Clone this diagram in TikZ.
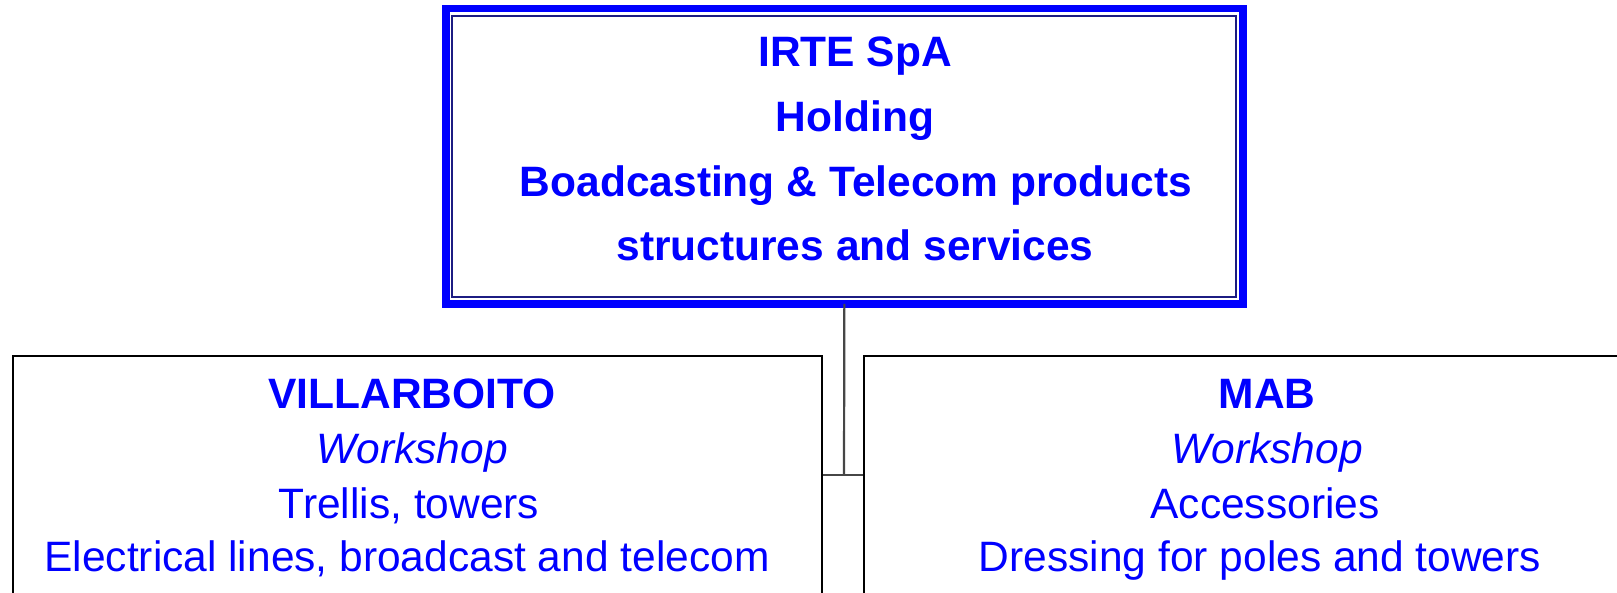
\documentclass[tikz,border=0pt]{standalone}
\usepackage{fontspec}
\setmainfont{Liberation Sans}
\definecolor{txtblue}{RGB}{0,0,255}
\definecolor{navyline}{RGB}{28,28,130}
\definecolor{conngray}{RGB}{70,70,70}
\begin{document}
\begin{tikzpicture}[x=1pt,y=-1pt,
  boxblack/.style={draw=black,line width=2.2pt,fill=white,rectangle,inner sep=0pt},
  topbox/.style={draw=txtblue,line width=7.7pt,fill=white,rectangle,inner sep=0pt,outer sep=0pt},
  conn/.style={draw=conngray,line width=2.2pt},
  tline/.style={anchor=base,inner sep=0pt,text=txtblue,font=\fontsize{42.5}{50}\selectfont},
  tbold/.style={tline,font=\fontsize{42.5}{50}\selectfont\bfseries},
  tital/.style={tline,font=\fontsize{42.5}{50}\selectfont\itshape}]
\useasboundingbox (0,0) rectangle (1617,592);
\clip (0,0) rectangle (1617,592);
\fill[white] (0,0) rectangle (1617,592);
% boxes
\node[topbox,minimum width=797pt,minimum height=295.3pt] (top) at (844.35,156.2) {};
\draw[navyline,line width=2.3pt] ([xshift=6.15pt,yshift=-7.45pt]top.north west) rectangle ([xshift=-6.65pt,yshift=7.15pt]top.south east);
\node[boxblack,minimum width=809.5pt,minimum height=300pt] (left) at (417.55,506) {};
\node[boxblack,minimum width=809.5pt,minimum height=300pt] (right) at (1269.05,506) {};
% connectors
\coordinate (j) at (844,474.7);
\draw[conn] (top.south) -- (j);
\draw[conn] (j -| left.east) -- (j -| right.west);
% top text
\node[tbold] (t1) at (855,66.7) {IRTE SpA};
\node[tbold] (t2) at (855,131.5) {Holding};
\node[tbold] (t3) at (856,196) {Boadcasting \& Telecom products};
\node[tbold] (t4) at (855,260.5) {structures and services};
% left text
\node[tbold] (l1) at (412,408) {VILLARBOITO};
\node[tital] (l2) at (412,463) {Workshop};
\node[tline] (l3) at (409,518.3) {Trellis, towers};
\node[tline] (l4) at (407,571.7) {Electrical lines, broadcast and telecom};
% right text
\node[tbold] (r1) at (1267,408) {MAB};
\node[tital] (r2) at (1267,463) {Workshop};
\node[tline] (r3) at (1265,518.3) {Accessories};
\node[tline] (r4) at (1260,571.7) {Dressing for poles and towers};
\end{tikzpicture}
\end{document}
